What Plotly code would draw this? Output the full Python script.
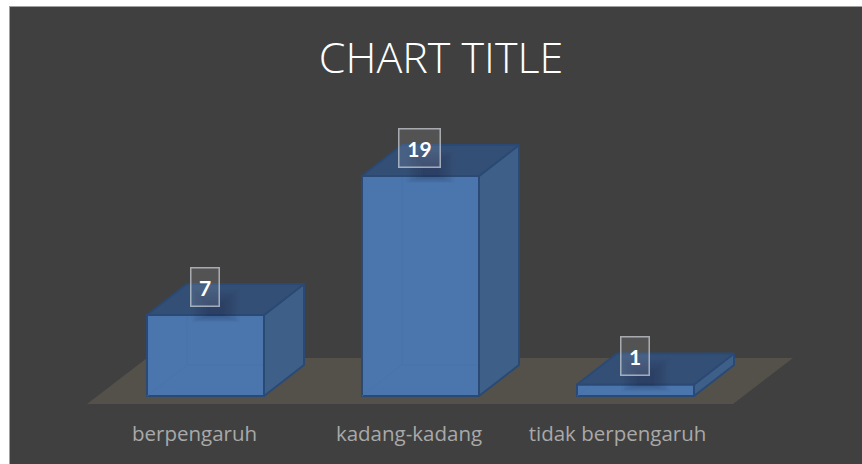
import plotly.graph_objects as go

categories = ["berpengaruh", "kadang-kadang", "tidak berpengaruh"]
values = [7, 19, 1]
title_text = "CHART TITLE"

W, H = 862, 464
PL, PT = 10, 7                # plot-area edges in px
X0_PX, UX = 205.5, 215.0      # first category centre, px per category
Y0_PX, UY = 396.0, 11.58      # value 0 baseline, px per value unit
BAR_W = 117 / UX
DX, DY = 40 / UX, 31 / UY     # oblique depth in axis units
xr = [(PL - X0_PX) / UX, (W - X0_PX) / UX]
yr = [(Y0_PX - H) / UY, (Y0_PX - PT) / UY]
xs = list(range(len(categories)))
label_offsets = [-11 / UX, -11.5 / UX, -18 / UX]


def px(v):
    return (v - X0_PX) / UX


def py(v):
    return (Y0_PX - v) / UY


side_x, side_y, top_x, top_y, in_x, in_y = [], [], [], [], [], []
for x, v in zip(xs, values):
    l, r = x - BAR_W / 2, x + BAR_W / 2
    side_x += [r, r + DX, r + DX, r, r, None]
    side_y += [0, DY, v + DY, v, 0, None]
    top_x += [l, r, r + DX, l + DX, l, None]
    top_y += [v, v, v + DY, v + DY, v, None]
    in_x += [l, l + DX, r + DX, None, l + DX, l + DX, None]
    in_y += [0, DY, DY, None, DY, v + DY, None]

fig = go.Figure()
fig.add_trace(go.Bar(
    x=xs, y=values, width=BAR_W,
    marker=dict(color="#4a76ad", line=dict(color="#2a4a75", width=2)),
    hoverinfo="skip",
))
fig.add_trace(go.Scatter(
    x=in_x, y=in_y, mode="lines", hoverinfo="skip",
    line=dict(color="rgba(68,114,170,0.7)", width=1),
))
fig.add_trace(go.Scatter(
    x=side_x, y=side_y, mode="lines", fill="toself", hoverinfo="skip",
    fillcolor="#3e5f88", line=dict(color="#2a4a75", width=2),
))
fig.add_trace(go.Scatter(
    x=top_x, y=top_y, mode="lines", fill="toself", hoverinfo="skip",
    fillcolor="#344f76", line=dict(color="#2a4a75", width=2),
))

shapes = [dict(
    type="path", layer="below", xref="x", yref="y",
    path=f"M {px(87)} {py(404)} L {px(733)} {py(404)} L {px(793)} {py(358)} L {px(147)} {py(358)} Z",
    fillcolor="#54514a", line=dict(width=0),
)]
# soft shadow of the label boxes, built from thin translucent layers
for x, v in zip(xs, values):
    for i in range(8):
        half = (24 - 2.4 * i) / UX
        y_low = max(v - (7 - 0.9 * i) / UY, 0.08)
        y_high = v + (26 - 2.0 * i) / UY
        y_high = min(y_high, v + DY - 0.1)
        shapes.append(dict(
            type="rect", layer="above", xref="x", yref="y",
            x0=x + 10 / UX - half, x1=x + 10 / UX + half, y0=y_low, y1=y_high,
            fillcolor="rgba(30,42,62,0.035)", line=dict(width=0),
        ))

annotations = []
for x, v in zip(xs, values):
    txt = str(v)
    annotations.append(dict(
        x=x, y=v, xref="x", yref="y", yshift=28, xshift=-1, text=f"<b>{txt}</b>", showarrow=False,
        width=38 if len(txt) > 1 else 25, height=35, xanchor="center", yanchor="middle",
        bgcolor="rgba(255,255,255,0.10)", bordercolor="rgba(200,205,212,0.75)", borderwidth=1.5,
        font=dict(family="Lato", size=21, color="white"),
    ))

fig.update_layout(
    width=W, height=H, margin=dict(l=0, r=0, t=0, b=0),
    paper_bgcolor="white", plot_bgcolor="#404040",
    showlegend=False,
    title=dict(
        text=title_text, x=441 / W, xanchor="center", y=1 - 58 / H, yanchor="middle",
        font=dict(family="Open Sans", size=43, color="white", weight=300),
    ),
    xaxis=dict(
        domain=[PL / W, 1], range=xr, tickmode="array",
        tickvals=[x + o for x, o in zip(xs, label_offsets)], ticktext=categories,
        showgrid=False, zeroline=False, showline=False, ticks="", fixedrange=True,
        anchor="free", position=(H - 419) / H,
        tickfont=dict(family="Open Sans", size=20.5, color="#a9a9a9"),
    ),
    yaxis=dict(
        domain=[0, 1 - PT / H], range=yr, showgrid=False, zeroline=False, showline=False,
        showticklabels=False, ticks="", fixedrange=True,
    ),
    shapes=shapes + [
        dict(type="line", xref="paper", yref="paper", x0=(PL - 1) / W, x1=1,
             y0=1 - 6.5 / H, y1=1 - 6.5 / H, line=dict(color="#a0a0a0", width=1)),
        dict(type="line", xref="paper", yref="paper", x0=(PL - 0.5) / W, x1=(PL - 0.5) / W,
             y0=0, y1=1 - 6.5 / H, line=dict(color="#a0a0a0", width=1)),
    ],
    annotations=annotations,
)
fig.write_html(
    "out.html",
    config=dict(displayModeBar=False),
    post_script="document.body.style.margin='0';document.body.style.overflow='hidden';",
)
